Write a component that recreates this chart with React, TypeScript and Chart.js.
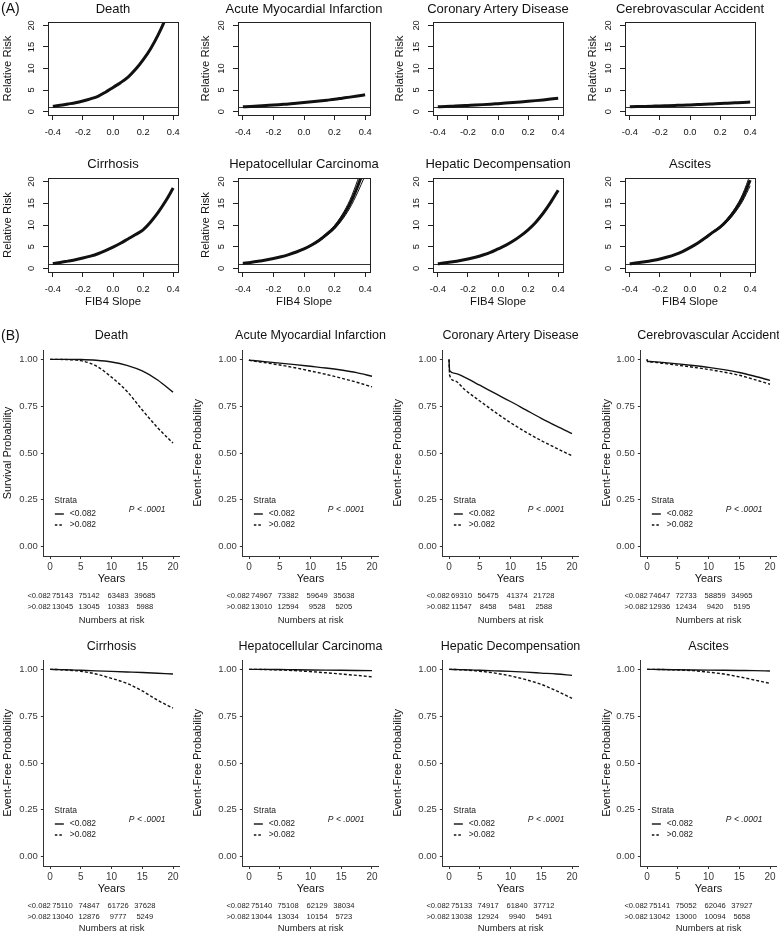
import React, { useEffect, useRef } from "react";
import { Chart, registerables } from "chart.js";
Chart.register(...registerables);

const FONT = '"Liberation Sans", Arial, Helvetica, sans-serif';

// ---------------- (A) Relative risk by FIB4 slope ----------------
const FIB4_SLOPE = [-0.4, -0.35, -0.3, -0.25, -0.2, -0.15, -0.1, -0.05, 0, 0.05, 0.1, 0.15, 0.2, 0.25, 0.3, 0.35, 0.4];
const RR_DEATH = [1.2, 1.45, 1.75, 2.05, 2.45, 2.95, 3.55, 4.5, 5.6, 6.7, 8.0, 9.8, 12.0, 14.6, 17.8, 21.6, 26.0];
const RR_AMI = [1.1, 1.19, 1.29, 1.4, 1.5, 1.63, 1.76, 1.93, 2.1, 2.27, 2.45, 2.65, 2.85, 3.1, 3.35, 3.62, 3.9];
const RR_CAD = [1.1, 1.17, 1.25, 1.33, 1.42, 1.51, 1.61, 1.72, 1.84, 1.96, 2.09, 2.23, 2.38, 2.54, 2.71, 2.89, 3.08];
const RR_CVA = [1.1, 1.15, 1.2, 1.25, 1.3, 1.36, 1.42, 1.48, 1.55, 1.62, 1.69, 1.77, 1.85, 1.94, 2.03, 2.12, 2.22];
const RR_CIRRHOSIS = [1.15, 1.4, 1.7, 2.0, 2.4, 2.85, 3.4, 4.1, 4.9, 5.8, 6.8, 7.8, 8.9, 10.7, 12.9, 15.5, 18.5];
const RR_HCC = [1.2, 1.4, 1.65, 1.95, 2.3, 2.7, 3.2, 3.8, 4.5, 5.4, 6.5, 7.9, 9.5, 11.8, 14.8, 18.8, 23.5];
const RR_HCC_CI_LOW = [1.18, 1.38, 1.62, 1.91, 2.25, 2.64, 3.12, 3.7, 4.38, 5.24, 6.28, 7.6, 9.1, 11.2, 13.9, 17.4, 21.4];
const RR_HCC_CI_HIGH = [1.22, 1.42, 1.68, 1.99, 2.35, 2.76, 3.28, 3.9, 4.62, 5.56, 6.72, 8.2, 9.9, 12.4, 15.7, 20.2, 25.6];
const RR_HEPDECOMP = [1.1, 1.3, 1.55, 1.85, 2.2, 2.6, 3.1, 3.7, 4.5, 5.3, 6.3, 7.5, 8.9, 10.6, 12.7, 15.2, 18.0];
const RR_ASCITES = [1.1, 1.3, 1.55, 1.85, 2.2, 2.65, 3.2, 3.9, 4.8, 5.8, 7.0, 8.3, 9.5, 11.2, 13.4, 16.3, 20.3];
const RR_ASCITES_CI_LOW = [1.08, 1.28, 1.52, 1.82, 2.16, 2.6, 3.13, 3.82, 4.7, 5.67, 6.84, 8.1, 9.25, 10.85, 12.9, 15.5, 19.0];
const RR_ASCITES_CI_HIGH = [1.12, 1.32, 1.58, 1.88, 2.24, 2.7, 3.27, 3.98, 4.9, 5.93, 7.16, 8.5, 9.75, 11.55, 13.9, 17.1, 21.6];
const RR_X_TICKS = [-0.4, -0.2, 0, 0.2, 0.4];
const RR_Y_TICKS = [0, 5, 10, 15, 20];
const RR_REFERENCE = 1;

// ---------------- (B) Kaplan-Meier by FIB4 slope strata ----------------
const STRATA = ["<0.082", ">0.082"];
const YEARS = [0, 0.1, 1, 2.5, 5, 7.5, 10, 12.5, 15, 17.5, 20];
const KM_DEATH_LOW = [1, 1, 1, 1, 0.999, 0.995, 0.986, 0.968, 0.938, 0.89, 0.825];
const KM_DEATH_HIGH = [1, 1, 1, 0.999, 0.993, 0.965, 0.905, 0.83, 0.73, 0.635, 0.553];
const KM_AMI_LOW = [0.997, 0.996, 0.993, 0.988, 0.98, 0.972, 0.963, 0.954, 0.943, 0.929, 0.91];
const KM_AMI_HIGH = [0.997, 0.995, 0.99, 0.983, 0.97, 0.955, 0.938, 0.92, 0.9, 0.878, 0.853];
const KM_CAD_LOW = [1.0, 0.94, 0.925, 0.905, 0.862, 0.818, 0.775, 0.73, 0.685, 0.643, 0.603];
const KM_CAD_HIGH = [1.0, 0.915, 0.885, 0.84, 0.778, 0.718, 0.662, 0.612, 0.566, 0.525, 0.485];
const KM_CVA_LOW = [1.0, 0.99, 0.988, 0.984, 0.976, 0.967, 0.957, 0.945, 0.93, 0.91, 0.888];
const KM_CVA_HIGH = [1.0, 0.988, 0.985, 0.979, 0.969, 0.958, 0.946, 0.932, 0.915, 0.892, 0.867];
const KM_CIRRHOSIS_LOW = [1, 1, 0.999, 0.998, 0.995, 0.992, 0.989, 0.986, 0.983, 0.979, 0.975];
const KM_CIRRHOSIS_HIGH = [1, 1, 0.999, 0.997, 0.99, 0.975, 0.952, 0.925, 0.885, 0.835, 0.793];
const KM_HCC_LOW = [1, 1, 1, 1, 0.999, 0.998, 0.997, 0.996, 0.995, 0.994, 0.993];
const KM_HCC_HIGH = [1, 1, 1, 0.999, 0.997, 0.993, 0.988, 0.982, 0.975, 0.968, 0.96];
const KM_HEPDECOMP_LOW = [1, 1, 0.999, 0.998, 0.995, 0.992, 0.989, 0.985, 0.98, 0.975, 0.968];
const KM_HEPDECOMP_HIGH = [1, 1, 0.999, 0.997, 0.99, 0.98, 0.965, 0.945, 0.92, 0.885, 0.845];
const KM_ASCITES_LOW = [1, 1, 1, 0.999, 0.998, 0.997, 0.996, 0.995, 0.994, 0.993, 0.991];
const KM_ASCITES_HIGH = [1, 1, 1, 0.999, 0.997, 0.993, 0.985, 0.975, 0.96, 0.943, 0.925];
const YEAR_TICKS = [0, 5, 10, 15, 20];
const PROB_TICKS = [0, 0.25, 0.5, 0.75, 1];
const P_VALUE = "P < .0001";

// numbers at risk at 0, 5, 10, 15 years
const RISK_DEATH = [[75143, 75142, 63483, 39685], [13045, 13045, 10383, 5988]];
const RISK_AMI = [[74967, 73382, 59649, 35638], [13010, 12594, 9528, 5205]];
const RISK_CAD = [[69310, 56475, 41374, 21728], [11547, 8458, 5481, 2588]];
const RISK_CVA = [[74647, 72733, 58859, 34965], [12936, 12434, 9420, 5195]];
const RISK_CIRRHOSIS = [[75110, 74847, 61726, 37628], [13040, 12876, 9777, 5249]];
const RISK_HCC = [[75140, 75108, 62129, 38034], [13044, 13034, 10154, 5723]];
const RISK_HEPDECOMP = [[75133, 74917, 61840, 37712], [13038, 12924, 9940, 5491]];
const RISK_ASCITES = [[75141, 75052, 62046, 37927], [13042, 13000, 10094, 5658]];

const PANELS_A = [
  { title: "Death", rr: RR_DEATH },
  { title: "Acute Myocardial Infarction", rr: RR_AMI, skip15: true },
  { title: "Coronary Artery Disease", rr: RR_CAD },
  { title: "Cerebrovascular Accident", rr: RR_CVA },
  { title: "Cirrhosis", rr: RR_CIRRHOSIS },
  { title: "Hepatocellular Carcinoma", rr: RR_HCC, ci: [RR_HCC_CI_LOW, RR_HCC_CI_HIGH] },
  { title: "Hepatic Decompensation", rr: RR_HEPDECOMP },
  { title: "Ascites", rr: RR_ASCITES, ci: [RR_ASCITES_CI_LOW, RR_ASCITES_CI_HIGH] },
];

const PANELS_B = [
  { title: "Death", ylab: "Survival Probability", low: KM_DEATH_LOW, high: KM_DEATH_HIGH, risk: RISK_DEATH },
  { title: "Acute Myocardial Infarction", ylab: "Event-Free Probability", low: KM_AMI_LOW, high: KM_AMI_HIGH, risk: RISK_AMI },
  { title: "Coronary Artery Disease", ylab: "Event-Free Probability", low: KM_CAD_LOW, high: KM_CAD_HIGH, risk: RISK_CAD },
  { title: "Cerebrovascular Accident", ylab: "Event-Free Probability", low: KM_CVA_LOW, high: KM_CVA_HIGH, risk: RISK_CVA },
  { title: "Cirrhosis", ylab: "Event-Free Probability", low: KM_CIRRHOSIS_LOW, high: KM_CIRRHOSIS_HIGH, risk: RISK_CIRRHOSIS },
  { title: "Hepatocellular Carcinoma", ylab: "Event-Free Probability", low: KM_HCC_LOW, high: KM_HCC_HIGH, risk: RISK_HCC },
  { title: "Hepatic Decompensation", ylab: "Event-Free Probability", low: KM_HEPDECOMP_LOW, high: KM_HEPDECOMP_HIGH, risk: RISK_HEPDECOMP },
  { title: "Ascites", ylab: "Event-Free Probability", low: KM_ASCITES_LOW, high: KM_ASCITES_HIGH, risk: RISK_ASCITES },
];

// ---------------- layout (page pixels) ----------------
const A_LEFT = [48, 238, 433, 625];
const A_WIDTH = [130, 132, 130, 130];
const A_TOP = [22, 178];
const A_BOTTOM = [115, 272];
const A_YLAB_X = [8, 206, 400, 593];
const A_TITLE_Y = [8, 163];

const B_AXIS_X = [43, 242, 442, 640];
const B_YLAB_X = [8, 198, 398, 607];
const B_TOP = [350, 660];
const B_BOTTOM = [556, 866];
const B_TITLE_Y = [335, 646];
const B_YEARS_Y = [579, 889];
const B_RISK_Y = [[596, 607], [906, 917]];
const B_NAR_Y = [620, 928];
const RISK_LABEL_RIGHT = 7;
const RISK_COL_CENTERS = [18.7, 45.3, 74.3, 101.0];

type Rect = { left: number; top: number; right: number; bottom: number };

function ChartBox({ area, make }: { area: Rect; make: () => any }) {
  const ref = useRef<HTMLCanvasElement | null>(null);
  const box = {
    left: Math.floor(area.left - 60),
    top: Math.floor(area.top - 20),
    width: Math.ceil(area.right - area.left + 80),
    height: Math.ceil(area.bottom - area.top + 70),
  };
  useEffect(() => {
    const cfg = make();
    const pad = { left: 10, top: 20, right: 20, bottom: 10 };
    cfg.options.layout = { padding: { ...pad } };
    cfg.options.responsive = false;
    cfg.options.maintainAspectRatio = false;
    cfg.options.animation = false;
    const chart = new Chart(ref.current as HTMLCanvasElement, cfg);
    for (let i = 0; i < 4; i++) {
      const ca = chart.chartArea;
      const dl = area.left - box.left - ca.left;
      const dt = area.top - box.top - ca.top;
      const dr = ca.right - (area.right - box.left);
      const db = ca.bottom - (area.bottom - box.top);
      if (Math.abs(dl) + Math.abs(dt) + Math.abs(dr) + Math.abs(db) < 0.05) break;
      pad.left += dl;
      pad.top += dt;
      pad.right += dr;
      pad.bottom += db;
      (chart.options as any).layout.padding = { ...pad };
      chart.update();
    }
    return () => chart.destroy();
  }, []);
  return (
    <canvas
      ref={ref}
      width={box.width}
      height={box.height}
      style={{ position: "absolute", left: box.left, top: box.top, width: box.width, height: box.height }}
    />
  );
}

const rBoxPlugin = {
  id: "rBox",
  beforeDatasetsDraw(chart: any) {
    const { ctx, chartArea: a, scales } = chart;
    const y = Math.round(scales.y.getPixelForValue(RR_REFERENCE)) + 0.5;
    ctx.save();
    ctx.strokeStyle = "#333";
    ctx.lineWidth = 1.2;
    ctx.beginPath();
    ctx.moveTo(a.left, y);
    ctx.lineTo(a.right, y);
    ctx.stroke();
    ctx.restore();
  },
  afterDraw(chart: any) {
    const { ctx, chartArea: a } = chart;
    ctx.save();
    ctx.strokeStyle = "#222";
    ctx.lineWidth = 1;
    ctx.strokeRect(Math.round(a.left) + 0.5, Math.round(a.top) + 0.5, Math.round(a.right - a.left), Math.round(a.bottom - a.top));
    ctx.restore();
  },
};

const kmLegendPlugin = {
  id: "kmLegend",
  afterDraw(chart: any) {
    const { ctx, chartArea: a } = chart;
    ctx.save();
    ctx.fillStyle = "#222";
    ctx.textBaseline = "middle";
    ctx.font = `8.5px ${FONT}`;
    ctx.fillText("Strata", a.left + 10.5, a.bottom - 55.5);
    const rows = [a.bottom - 42, a.bottom - 31];
    rows.forEach((ry, i) => {
      ctx.strokeStyle = "#111";
      ctx.lineWidth = 1.4;
      ctx.setLineDash(i === 0 ? [] : [2.5, 2]);
      ctx.beginPath();
      ctx.moveTo(a.left + 11, ry);
      ctx.lineTo(a.left + 20, ry);
      ctx.stroke();
      ctx.setLineDash([]);
      ctx.fillText(STRATA[i], a.left + 26, ry);
    });
    ctx.font = `italic 8.5px ${FONT}`;
    ctx.fillText(P_VALUE, a.left + 85, a.bottom - 46);
    ctx.restore();
  },
};

function makeRiskChart(values: number[], ci: number[][] | undefined, skip15: boolean, showYlab: boolean, showXlab: boolean, yw: number, xh: number) {
  const line = (vals: number[], w: number) => ({
    data: FIB4_SLOPE.map((x, i) => ({ x, y: vals[i] })),
    borderColor: "#111",
    borderWidth: w,
    pointRadius: 0,
    cubicInterpolationMode: "monotone",
  });
  const datasets: any[] = [line(values, 3)];
  if (ci) ci.forEach((c) => datasets.push(line(c, 1)));
  return {
    type: "line",
    data: { datasets },
    options: {
      plugins: { legend: { display: false }, tooltip: { enabled: false } },
      scales: {
        x: {
          type: "linear",
          min: -0.432,
          max: 0.432,
          afterBuildTicks: (s: any) => {
            s.ticks = RR_X_TICKS.map((v) => ({ value: v }));
          },
          afterFit: (s: any) => {
            s.height = xh;
          },
          grid: { display: true, drawOnChartArea: false, drawTicks: true, tickLength: 5, color: "#222", lineWidth: 1 },
          border: { display: false },
          ticks: {
            autoSkip: false,
            maxRotation: 0,
            color: "#111",
            padding: 7,
            font: { family: FONT, size: 9.3 },
            callback: (v: any) => Number(v).toFixed(1),
          },
          title: { display: showXlab, text: "FIB4 Slope", color: "#111", padding: 0, font: { family: FONT, size: 11.3 } },
        },
        y: {
          type: "linear",
          min: -0.8,
          max: 20.8,
          afterBuildTicks: (s: any) => {
            s.ticks = RR_Y_TICKS.map((v) => ({ value: v }));
          },
          afterFit: (s: any) => {
            s.width = yw;
          },
          grid: { display: true, drawOnChartArea: false, drawTicks: true, tickLength: 5, color: "#222", lineWidth: 1 },
          border: { display: false },
          ticks: {
            autoSkip: false,
            minRotation: 90,
            maxRotation: 90,
            crossAlign: "center",
            color: "#111",
            padding: 6,
            font: { family: FONT, size: 9.3 },
            callback: (v: any) => (skip15 && v === 15 ? "" : String(v)),
          },
          title: { display: showYlab, text: "Relative Risk", color: "#111", padding: 0, font: { family: FONT, size: 11.3 } },
        },
      },
    },
    plugins: [rBoxPlugin],
  };
}

function makeKmChart(low: number[], high: number[], ylab: string, yw: number, xh: number) {
  const ds = (vals: number[], dash: number[]) => ({
    data: YEARS.map((x, i) => ({ x, y: vals[i] })),
    borderColor: "#111",
    borderWidth: 1.4,
    borderDash: dash,
    pointRadius: 0,
    cubicInterpolationMode: "monotone",
  });
  return {
    type: "line",
    data: { datasets: [ds(low, []), ds(high, [3, 2])] },
    options: {
      plugins: { legend: { display: false }, tooltip: { enabled: false } },
      scales: {
        x: {
          type: "linear",
          min: -1,
          max: 21,
          afterBuildTicks: (s: any) => {
            s.ticks = YEAR_TICKS.map((v) => ({ value: v }));
          },
          afterFit: (s: any) => {
            s.height = xh;
          },
          grid: { display: true, drawOnChartArea: false, drawTicks: true, tickLength: 3, color: "#333" },
          border: { display: true, color: "#333", width: 1 },
          ticks: { autoSkip: false, maxRotation: 0, color: "#3a3a3a", padding: 2, font: { family: FONT, size: 10 } },
          title: { display: true, text: "Years", color: "#111", padding: 0, font: { family: FONT, size: 11 } },
        },
        y: {
          type: "linear",
          min: -0.05,
          max: 1.05,
          afterBuildTicks: (s: any) => {
            s.ticks = PROB_TICKS.map((v) => ({ value: v }));
          },
          afterFit: (s: any) => {
            s.width = yw;
          },
          grid: { display: true, drawOnChartArea: false, drawTicks: true, tickLength: 3, color: "#333" },
          border: { display: true, color: "#333", width: 1 },
          ticks: {
            autoSkip: false,
            color: "#3a3a3a",
            padding: 3,
            font: { family: FONT, size: 9.5 },
            callback: (v: any) => Number(v).toFixed(2),
          },
          title: { display: true, text: ylab, color: "#111", padding: 0, font: { family: FONT, size: 10.9 } },
        },
      },
    },
    plugins: [kmLegendPlugin],
  };
}

function Label({ x, y, text, size, align = "center", style }: any) {
  const tx = align === "center" ? "-50%" : align === "right" ? "-100%" : "0";
  return (
    <div
      style={{
        position: "absolute",
        left: x,
        top: y,
        transform: `translate(${tx}, -50%)`,
        whiteSpace: "nowrap",
        fontFamily: FONT,
        fontSize: size,
        lineHeight: 1,
        color: "#111",
        ...style,
      }}
    >
      {text}
    </div>
  );
}

export default function App() {
  const items: any[] = [];
  PANELS_A.forEach((p: any, i) => {
    const c = i % 4;
    const r = Math.floor(i / 4);
    const area = { left: A_LEFT[c], top: A_TOP[r], right: A_LEFT[c] + A_WIDTH[c], bottom: A_BOTTOM[r] };
    const showYlab = r === 0 || c < 2;
    const lh = 11.3 * 1.2;
    const yw = area.left - (A_YLAB_X[c] - lh / 2);
    const xh = r === 1 ? 302 + lh / 2 - area.bottom : 30;
    items.push(
      <ChartBox key={"a" + i} area={area} make={() => makeRiskChart(p.rr, p.ci, !!p.skip15, showYlab, r === 1, yw, xh)} />
    );
    items.push(<Label key={"at" + i} x={(area.left + area.right) / 2} y={A_TITLE_Y[r]} text={p.title} size={13} />);
  });
  PANELS_B.forEach((p, i) => {
    const c = i % 4;
    const r = Math.floor(i / 4);
    const pxPerYear = 6.15;
    const left = B_AXIS_X[c] + 0.85;
    const area = { left, top: B_TOP[r], right: left + 22 * pxPerYear, bottom: B_BOTTOM[r] };
    const lh = 10.9 * 1.2;
    const yw = area.left - (B_YLAB_X[c] - lh / 2);
    const xh = B_YEARS_Y[r] + 13.2 / 2 - area.bottom;
    items.push(<ChartBox key={"b" + i} area={area} make={() => makeKmChart(p.low, p.high, p.ylab, yw, xh)} />);
    const cx = (area.left + area.right) / 2;
    items.push(<Label key={"bt" + i} x={cx} y={B_TITLE_Y[r]} text={p.title} size={12.5} />);
    p.risk.forEach((row, k) => {
      items.push(
        <Label key={`bl${i}-${k}`} x={area.left + RISK_LABEL_RIGHT} y={B_RISK_Y[r][k]} text={STRATA[k]} size={7.6} align="right" style={{ color: "#222" }} />
      );
      row.forEach((n, j) => {
        items.push(
          <Label key={`bn${i}-${k}-${j}`} x={area.left + RISK_COL_CENTERS[j]} y={B_RISK_Y[r][k]} text={String(n)} size={7.6} style={{ color: "#222" }} />
        );
      });
    });
    items.push(<Label key={"bn" + i} x={cx} y={B_NAR_Y[r]} text="Numbers at risk" size={9.4} style={{ color: "#222" }} />);
  });
  return (
    <div style={{ position: "absolute", left: 0, top: 0, width: 779, height: 932, background: "#fff", overflow: "hidden" }}>
      {items}
      <Label x={1} y={8} text="(A)" size={14} align="left" />
      <Label x={1} y={335} text="(B)" size={14} align="left" />
    </div>
  );
}
